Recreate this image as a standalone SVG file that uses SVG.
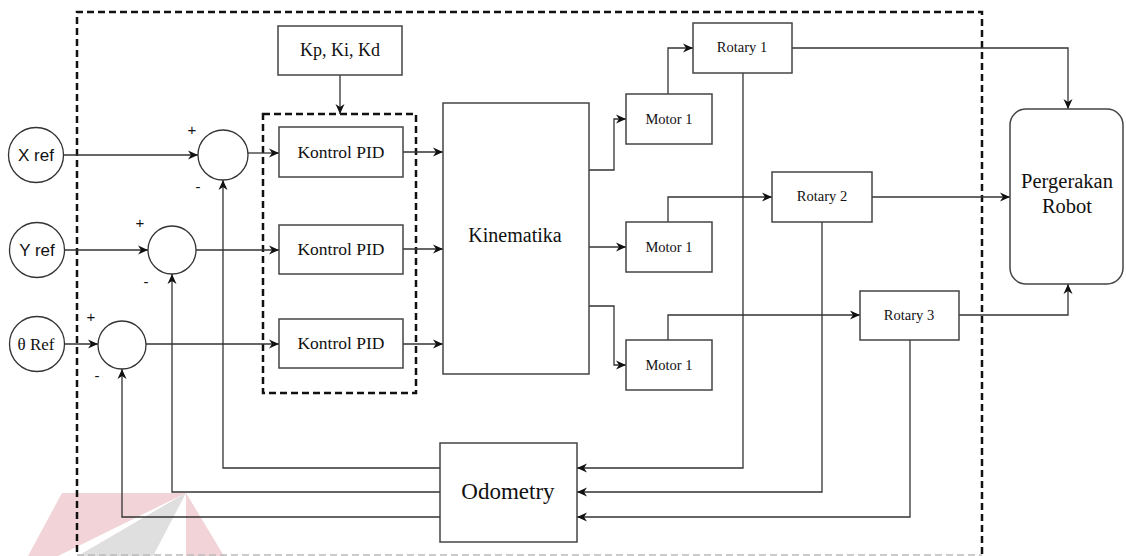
<svg xmlns="http://www.w3.org/2000/svg" width="1126" height="556" viewBox="0 0 1126 556">
  <defs>
    <marker id="arrow" markerUnits="userSpaceOnUse" markerWidth="11" markerHeight="10" refX="10" refY="5" orient="auto" viewBox="0 0 11 10">
      <path d="M0,0.5 L10,5 L0,9.5 L3,5 Z" fill="#111"/>
    </marker>
    <style>
      .box { fill: #fff; stroke: #444; stroke-width: 1.5; }
      .circ { fill: #fff; stroke: #333; stroke-width: 1.3; }
      .wire { fill: none; stroke: #333; stroke-width: 1.3; marker-end: url(#arrow); }
      .dash { fill: none; stroke: #111; stroke-width: 2.5; stroke-dasharray: 7 4; }
      .serif { font-family: "Liberation Serif", "Times New Roman", serif; fill: #111; text-anchor: middle; }
      .sans { font-family: "Liberation Sans", Arial, sans-serif; fill: #111; text-anchor: middle; }
    </style>
  </defs>

  <!-- faint logo in the lower-left corner -->
  <g id="logo" opacity="0.9">
    <polygon points="62,493 186,493 224,556 28,556" fill="#f1cfd3"/>
    <polygon points="186,493 58,556 78,556" fill="#ffffff"/>
    <polygon points="186,493 78,556 153,556" fill="#dcdcdc"/>
    <polygon points="186,493 153,556 186,556" fill="#ffffff"/>
  </g>

  <!-- system boundaries -->
  <g id="boundaries">
    <path class="dash" d="M77,552 V12 H982 V556"/>
    <path d="M77,555 H982" fill="none" stroke="#bbb" stroke-width="1.5" stroke-dasharray="7 4"/>
    <rect class="dash" x="263" y="114" width="153" height="279"/>
  </g>

  <!-- connectors -->
  <g id="connectors">
    <path class="wire" d="M64,155 H198"/>
    <path class="wire" d="M248,153 H279"/>
    <path class="wire" d="M64,250 H148"/>
    <path class="wire" d="M196,250 H279"/>
    <path class="wire" d="M64,344 H98"/>
    <path class="wire" d="M146,344 H279"/>
    <path class="wire" d="M340,75 V114"/>
    <path class="wire" d="M403,152 H443"/>
    <path class="wire" d="M403,249 H443"/>
    <path class="wire" d="M403,344 H443"/>
    <path class="wire" d="M589,170 H614 V119 H626"/>
    <path class="wire" d="M589,247 H626"/>
    <path class="wire" d="M589,306 H614 V365 H626"/>
    <path class="wire" d="M668,94 V48 H693"/>
    <path class="wire" d="M668,222 V197 H772"/>
    <path class="wire" d="M668,340 V315 H860"/>
    <path class="wire" d="M792,48 H1068 V109"/>
    <path class="wire" d="M872,197 H1010"/>
    <path class="wire" d="M959,315 H1068 V284"/>
    <path class="wire" d="M743,73 V468 H577"/>
    <path class="wire" d="M822,222 V492 H577"/>
    <path class="wire" d="M910,340 V517 H577"/>
    <path class="wire" d="M440,468 H223 V180"/>
    <path class="wire" d="M440,492 H172 V274"/>
    <path class="wire" d="M440,517 H122 V369"/>
  </g>

  <!-- reference inputs -->
  <g id="xref">
    <circle class="circ" cx="36" cy="155" r="27.5"/>
    <text class="sans" x="36" y="161" font-size="17">X ref</text>
  </g>
  <g id="yref">
    <circle class="circ" cx="37" cy="250" r="27.5"/>
    <text class="sans" x="37" y="256" font-size="17">Y ref</text>
  </g>
  <g id="thetaref">
    <circle class="circ" cx="37" cy="344" r="27.5"/>
    <text class="serif" x="36" y="350" font-size="17">θ Ref</text>
  </g>

  <!-- summing junctions -->
  <g id="sum1">
    <circle class="circ" cx="223" cy="155" r="25"/>
    <text class="sans" x="192" y="135" font-size="15">+</text>
    <text class="sans" x="198" y="192" font-size="15">-</text>
  </g>
  <g id="sum2">
    <circle class="circ" cx="172" cy="250" r="24"/>
    <text class="sans" x="140" y="228" font-size="15">+</text>
    <text class="sans" x="146" y="287" font-size="15">-</text>
  </g>
  <g id="sum3">
    <circle class="circ" cx="122" cy="345" r="24"/>
    <text class="sans" x="91" y="322" font-size="15">+</text>
    <text class="sans" x="97" y="381" font-size="15">-</text>
  </g>

  <!-- gains and controllers -->
  <g id="gains">
    <rect class="box" x="278" y="26" width="124" height="49"/>
    <text class="serif" x="340" y="56" font-size="18">Kp, Ki, Kd</text>
  </g>
  <g id="pid1">
    <rect class="box" x="279" y="127" width="124" height="50"/>
    <text class="serif" x="341" y="158" font-size="17.5">Kontrol PID</text>
  </g>
  <g id="pid2">
    <rect class="box" x="279" y="225" width="124" height="49"/>
    <text class="serif" x="341" y="255" font-size="17.5">Kontrol PID</text>
  </g>
  <g id="pid3">
    <rect class="box" x="279" y="319" width="124" height="49"/>
    <text class="serif" x="341" y="349" font-size="17.5">Kontrol PID</text>
  </g>

  <g id="kinematika">
    <rect class="box" x="443" y="103" width="146" height="271"/>
    <text class="serif" x="515" y="242" font-size="20">Kinematika</text>
  </g>

  <!-- motors -->
  <g id="motor-a">
    <rect class="box" x="626" y="94" width="86" height="50"/>
    <text class="serif" x="669" y="124" font-size="14.5">Motor 1</text>
  </g>
  <g id="motor-b">
    <rect class="box" x="626" y="222" width="86" height="50"/>
    <text class="serif" x="669" y="252" font-size="14.5">Motor 1</text>
  </g>
  <g id="motor-c">
    <rect class="box" x="626" y="340" width="86" height="50"/>
    <text class="serif" x="669" y="370" font-size="14.5">Motor 1</text>
  </g>

  <!-- rotary encoders -->
  <g id="rotary1">
    <rect class="box" x="693" y="23" width="99" height="50"/>
    <text class="serif" x="742" y="52" font-size="14.5">Rotary 1</text>
  </g>
  <g id="rotary2">
    <rect class="box" x="772" y="172" width="100" height="50"/>
    <text class="serif" x="822" y="201" font-size="14.5">Rotary 2</text>
  </g>
  <g id="rotary3">
    <rect class="box" x="860" y="291" width="99" height="49"/>
    <text class="serif" x="909" y="320" font-size="14.5">Rotary 3</text>
  </g>

  <g id="robot">
    <rect class="box" x="1010" y="109" width="113" height="175" rx="16" ry="16"/>
    <text class="serif" x="1067" y="188" font-size="20.5">Pergerakan</text>
    <text class="serif" x="1067" y="213" font-size="20.5">Robot</text>
  </g>

  <g id="odometry">
    <rect class="box" x="440" y="443" width="137" height="99"/>
    <text class="serif" x="508" y="499" font-size="23">Odometry</text>
  </g>
</svg>
